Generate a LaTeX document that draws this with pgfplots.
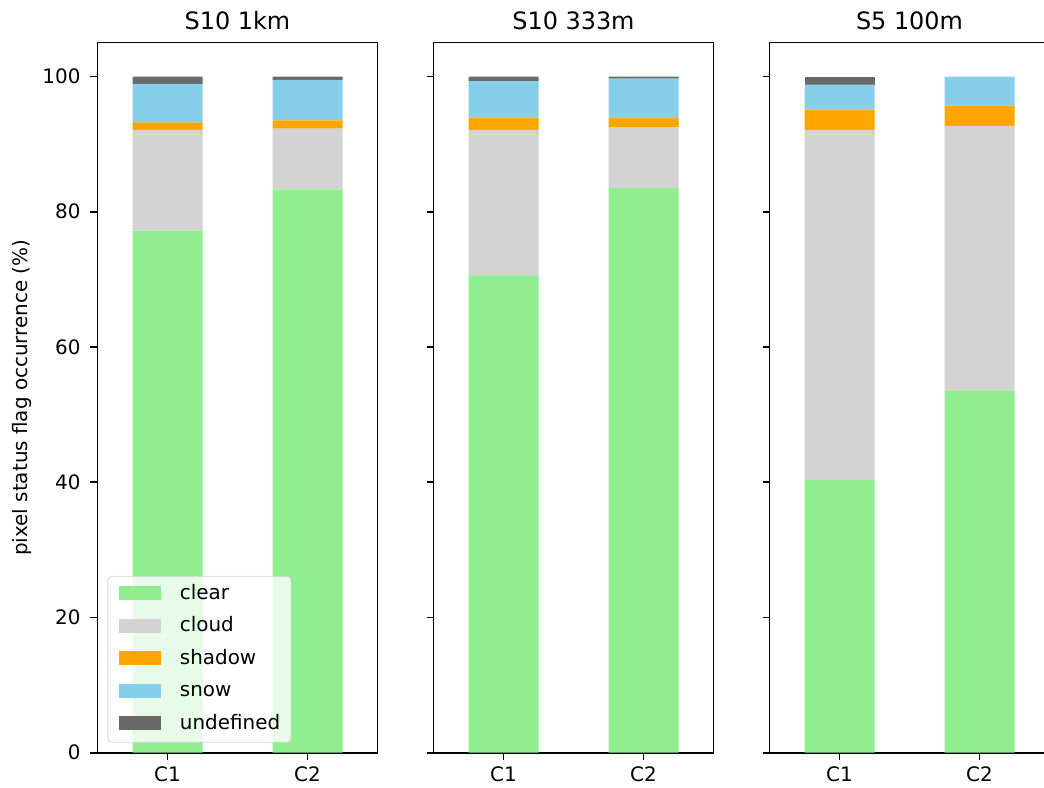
\documentclass[border=0pt]{standalone}
\usepackage{fontspec}
\setmainfont{DejaVu Sans}
\usepackage{pgfplots}
\pgfplotsset{compat=1.18}
\usepackage{pgfplotstable}

\definecolor{clearc}{HTML}{90EE90}
\definecolor{cloudc}{HTML}{D3D3D3}
\definecolor{shadowc}{HTML}{FFA500}
\definecolor{snowc}{HTML}{87CEEB}
\definecolor{undefc}{HTML}{696969}

% pixel status flag occurrence (%) per class, one table per sensor/resolution
\pgfplotstableread{
idx clear cloud shadow snow undefined
0   77.2  14.9  1.1    5.7  1.1
1   83.3  9.0   1.2    6.0  0.5
}\tabA
\pgfplotstableread{
idx clear cloud shadow snow undefined
0   70.6  21.5  1.8    5.4  0.7
1   83.5  9.0   1.4    5.8  0.3
}\tabB
\pgfplotstableread{
idx clear cloud shadow snow undefined
0   40.3  51.8  3.0    3.7  1.2
1   53.6  39.1  3.0    4.3  0.0
}\tabC

\pgfplotsset{
  flagaxis/.style={
    scale only axis, width=140bp, height=355bp,
    anchor=south west,
    ybar stacked, bar width=0.5,
    xmin=-0.5, xmax=1.5, ymin=0, ymax=105,
    xtick={0,1}, xticklabels={C1,C2},
    ytick={0,20,40,60,80,100},
    tick align=outside, tick pos=left,
    major tick length=3.5bp,
    every tick/.style={black, line width=0.8bp},
    axis line style={line width=0.8bp},
    tick label style={font=\fontsize{10}{12}\selectfont},
    yticklabel style={xshift=-1.5bp},
    /pgf/number format/assume math mode=true,
    title style={font=\fontsize{12}{14}\selectfont, at={(0.5,1)}, anchor=base, yshift=0.7bp},
    every axis plot/.append style={draw=none},
    legend image code/.code={\fill[##1, fill opacity=1, sharp corners] (0bp,-0.5bp) rectangle (21bp,6.5bp);},
  }
}

\begin{document}
\begin{tikzpicture}
\useasboundingbox (0,0) rectangle (522bp,394bp);

\begin{axis}[flagaxis, at={(48.75bp,17.65bp)}, title={S10 1km},
  ylabel={pixel status flag occurrence (\%)},
  ylabel style={font=\fontsize{10}{12}\selectfont, at={(axis description cs:-0.2714,0.5)}, anchor=center},
  legend style={at={(0.0357,0.0141)}, anchor=south west,
    draw=black!20, rounded corners=2bp, fill=white, fill opacity=0.8,
    draw opacity=0.8, text opacity=1, inner sep=4bp, inner xsep=5.5bp,
    row sep=6.25bp, column sep=9.5bp,
    font=\fontsize{10}{12}\selectfont,
    nodes={inner sep=0bp, text height=7.5bp, text depth=2.5bp, anchor=base west}},
  legend cell align=left]
\addplot[fill=clearc] table[x=idx, y=clear] {\tabA};
\addplot[fill=cloudc] table[x=idx, y=cloud] {\tabA};
\addplot[fill=shadowc] table[x=idx, y=shadow] {\tabA};
\addplot[fill=snowc] table[x=idx, y=snow] {\tabA};
\addplot[fill=undefc] table[x=idx, y=undefined] {\tabA};
\legend{clear,cloud,shadow,snow,undefined}
\end{axis}

\begin{axis}[flagaxis, at={(216.75bp,17.65bp)}, title={S10 333m}, yticklabels={}]
\addplot[fill=clearc] table[x=idx, y=clear] {\tabB};
\addplot[fill=cloudc] table[x=idx, y=cloud] {\tabB};
\addplot[fill=shadowc] table[x=idx, y=shadow] {\tabB};
\addplot[fill=snowc] table[x=idx, y=snow] {\tabB};
\addplot[fill=undefc] table[x=idx, y=undefined] {\tabB};
\end{axis}

\begin{axis}[flagaxis, at={(384.75bp,17.65bp)}, title={S5 100m}, yticklabels={}]
\addplot[fill=clearc] table[x=idx, y=clear] {\tabC};
\addplot[fill=cloudc] table[x=idx, y=cloud] {\tabC};
\addplot[fill=shadowc] table[x=idx, y=shadow] {\tabC};
\addplot[fill=snowc] table[x=idx, y=snow] {\tabC};
\addplot[fill=undefc] table[x=idx, y=undefined] {\tabC};
\end{axis}
\end{tikzpicture}
\end{document}
